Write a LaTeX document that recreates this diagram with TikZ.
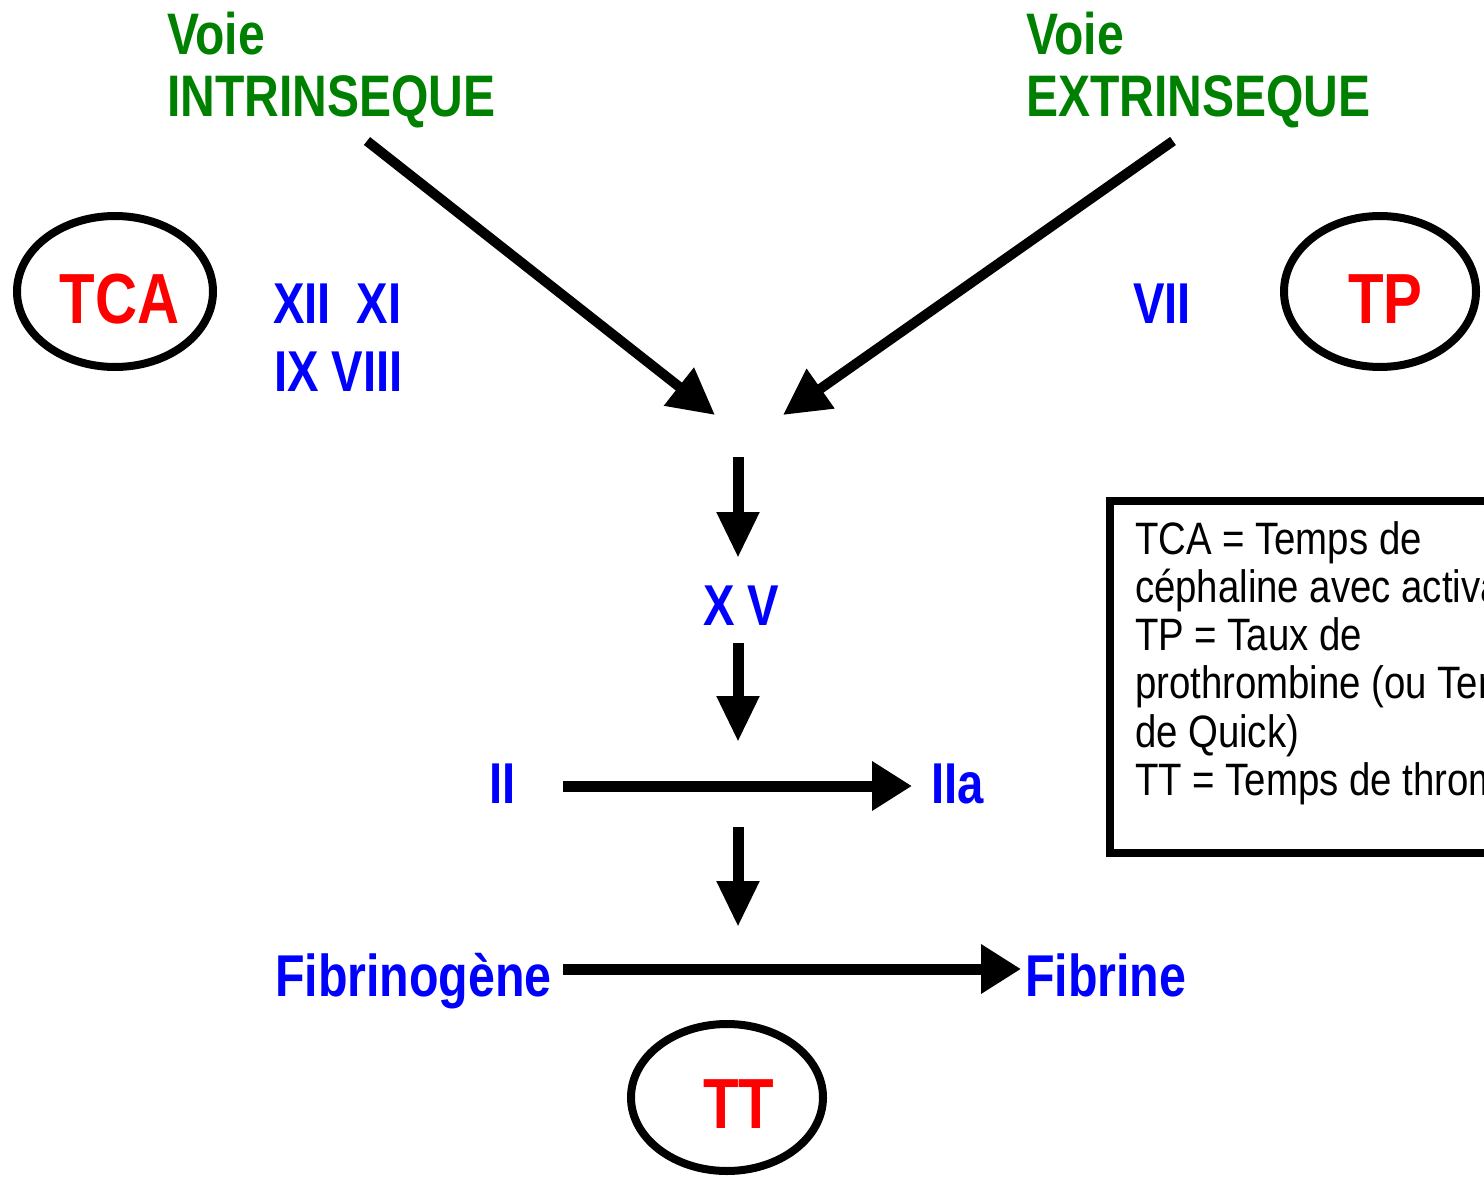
\documentclass[tikz,border=0pt]{standalone}
\usepackage{fontspec}
\setmainfont{Liberation Sans}
\newfontfamily\nb[FakeStretch=0.82]{Liberation Sans}
\newfontfamily\nl[FakeStretch=0.845]{Liberation Sans}
\usetikzlibrary{arrows.meta,shapes.geometric}
\definecolor{vgreen}{RGB}{0,128,0}
\definecolor{vblue}{RGB}{0,0,255}
\definecolor{vred}{RGB}{255,0,0}
\tikzset{
  lbl/.style={inner sep=0pt, outer sep=0pt, anchor=base west},
  title/.style={lbl, text=vgreen, font=\nb\bfseries\fontsize{29.3pt}{30pt}\selectfont},
  factor/.style={lbl, text=vblue, font=\nb\bfseries\fontsize{28.8pt}{30pt}\selectfont},
  big/.style={lbl, text=vblue, font=\nb\bfseries\fontsize{29.5pt}{30pt}\selectfont},
  test/.style={lbl, text=vred, font=\nb\bfseries\fontsize{35.5pt}{36pt}\selectfont},
  legend/.style={lbl, text=black, font=\nl\fontsize{22.7pt}{24pt}\selectfont},
  oval/.style={ellipse, draw=black, line width=4pt, inner sep=0pt},
  flow/.style={line width=5.5pt, -{Triangle[length=23pt,width=20pt]}},
  hflow/.style={line width=5.5pt, -{Triangle[length=20pt,width=23.5pt]}},
  diag/.style={line width=5pt, -{Triangle[length=23pt,width=23pt]}}
}
\begin{document}
\begin{tikzpicture}[x=0.5pt,y=-0.5pt]
\useasboundingbox (0,0) rectangle (1484,1177);
\clip (0,0) rectangle (1484,1177);
\fill[white] (0,0) rectangle (1484,1177);

% titles
\node[title] (voie1) at (167,55) {Voie};
\node[title] (intr) at (167,117) {INTRINSEQUE};
\node[title] (voie2) at (1026,55) {Voie};
\node[title] (extr) at (1026,117) {EXTRINSEQUE};

% ovals and tests
\node[oval, minimum width=98pt, minimum height=75.5pt] (tcaoval) at (115,291.5) {};
\node[test] (tca) at (60,323) {TCA};
\node[oval, minimum width=96pt, minimum height=75.5pt] (tpoval) at (1380,291.5) {};
\node[test] (tp) at (1348,323) {TP};
\node[oval, minimum width=96pt, minimum height=73.5pt] (ttoval) at (727,1097.5) {};
\node[test] (tt) at (703,1128) {TT};

% factors
\node[factor] (f1) at (273,323) {XII\ \ XI};
\node[factor] (f2) at (274,391) {IX VIII};
\node[factor] (f7) at (1133,323) {VII};
\node[factor] (xv) at (703,625) {X V};
\node[factor] (ii) at (489,803) {II};
\node[factor] (iia) at (931,803) {IIa};
\node[big] (fibg) at (275,996) {Fibrinogène};
\node[big] (fib) at (1025,996) {Fibrine};

% arrows
\coordinate (i0) at (367,141);
\coordinate (i1) at (715,415);
\coordinate (e0) at (1173,141);
\coordinate (e1) at (783,415);
\draw[diag] (i0) -- (i1);
\draw[diag] (e0) -- (e1);

\coordinate (a1) at (738,457);
\coordinate (b1) at (738,558);
\coordinate (a2) at (738,643);
\coordinate (b2) at (738,742);
\coordinate (a3) at (738,827);
\coordinate (b3) at (738,927);
\draw[flow] (a1) -- (b1);
\draw[flow] (a2) -- (b2);
\draw[flow] (a3) -- (b3);

\coordinate (h1) at (563,786);
\coordinate (h2) at (912,786);
\draw[hflow] (h1) -- (h2);
\coordinate (g1) at (563,969);
\coordinate (g2) at (1021,969);
\draw[hflow] (g1) -- (g2);

% legend
\draw[line width=4pt] (1110,501) rectangle (1540,853);
\node[legend] (l1) at (1135,554) {TCA = Temps de};
\node[legend] (l2) at (1135,602) {céphaline avec activateur};
\node[legend] (l3) at (1135,650) {TP = Taux de};
\node[legend] (l4) at (1135,698) {prothrombine (ou Temps};
\node[legend] (l5) at (1135,747) {de Quick)};
\node[legend] (l6) at (1135,795) {TT = Temps de thrombine};
\end{tikzpicture}
\end{document}
